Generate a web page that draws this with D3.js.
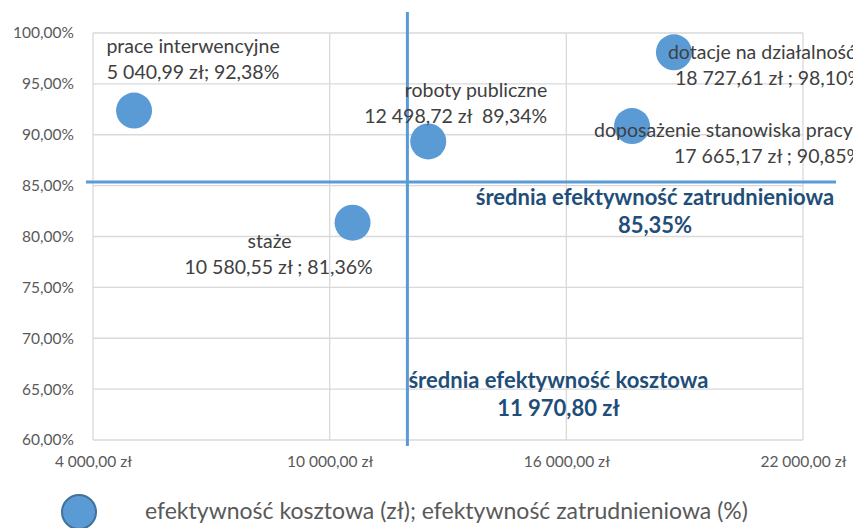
<!DOCTYPE html>
<html><head><meta charset="utf-8">
<script src="https://cdn.jsdelivr.net/npm/d3@7"></script>
<style>
body{margin:0;background:#fff;}
svg{display:block;font-family:Lato,"Open Sans",sans-serif;}
</style></head>
<body><svg id="c" width="853" height="528"></svg>
<script>
const names = ["prace interwencyjne","staże","roboty publiczne","doposażenie stanowiska pracy","dotacje na działalność"];
const costs = [5040.99, 10580.55, 12498.72, 17665.17, 18727.61];
const rates = [92.38, 81.36, 89.34, 90.85, 98.10];
const valueLabels = ["5 040,99 zł; 92,38%","10 580,55 zł ; 81,36%","12 498,72 zł\u00a0 89,34%","17 665,17 zł ; 90,85%","18 727,61 zł ; 98,10%"];
const xTicks = [4000, 10000, 16000, 22000];
const xTickLabels = ["4 000,00 zł","10 000,00 zł","16 000,00 zł","22 000,00 zł"];
const yTicks = [60,65,70,75,80,85,90,95,100];
const yTickLabels = ["60,00%","65,00%","70,00%","75,00%","80,00%","85,00%","90,00%","95,00%","100,00%"];
const meanCost = 11970.80, meanRate = 85.35;
const meanCostLabel = ["średnia efektywność kosztowa","11 970,80 zł"];
const meanRateLabel = ["średnia efektywność zatrudnieniowa","85,35%"];
const legendLabel = "efektywność kosztowa (zł); efektywność zatrudnieniowa (%)";

const svg = d3.select("#c");
const L=93, R=803, T=33, B=440;
const x = d3.scaleLinear().domain([4000,22000]).range([L,R]);
const y = d3.scaleLinear().domain([60,100]).range([B,T]);

// gridlines
svg.append("g").selectAll("line").data(xTicks).join("line")
  .attr("x1",d=>x(d)).attr("x2",d=>x(d)).attr("y1",T).attr("y2",B)
  .attr("stroke","#d9d9d9").attr("stroke-width",1.3);
svg.append("g").selectAll("line").data(yTicks).join("line")
  .attr("x1",L).attr("x2",R).attr("y1",d=>y(d)).attr("y2",d=>y(d))
  .attr("stroke","#d9d9d9").attr("stroke-width",1.3);

// axis labels
const xa = svg.append("g").attr("transform",`translate(0,${B})`)
  .call(d3.axisBottom(x).tickValues(xTicks).tickSize(0).tickPadding(16).tickFormat((d,i)=>xTickLabels[i]));
xa.select(".domain").remove();
xa.selectAll("text").attr("font-size",15.5).attr("fill","#595959").attr("font-family","Lato,sans-serif");
const ya = svg.append("g").attr("transform",`translate(${L},0)`)
  .call(d3.axisLeft(y).tickValues(yTicks).tickSize(0).tickPadding(19).tickFormat((d,i)=>yTickLabels[i]));
ya.select(".domain").remove();
ya.selectAll("text").attr("font-size",15.5).attr("fill","#595959").attr("font-family","Lato,sans-serif");

// mean lines
svg.append("line").attr("x1",x(meanCost)).attr("x2",x(meanCost)).attr("y1",T-21).attr("y2",B+6)
  .attr("stroke","#5B9BD5").attr("stroke-width",3);
svg.append("line").attr("x1",L-7).attr("x2",R+33).attr("y1",y(meanRate)).attr("y2",y(meanRate))
  .attr("stroke","#5B9BD5").attr("stroke-width",3);

// bubbles
const idx = d3.range(names.length);
svg.append("g").selectAll("circle").data(idx).join("circle")
  .attr("cx",i=>x(costs[i])).attr("cy",i=>y(rates[i])).attr("r",18)
  .attr("fill","#5B9BD5");

// data labels offsets relative to the bubble
const off = [
  {dx:59, dx2:59, dy:-58, a:"middle"},
  {dx:-83, dx2:-74, dy:25, a:"middle"},
  {dx:119, dx2:119, dy:-44, a:"end"},
  {dx:-38, dx2:42, dy:11, a:"start"},
  {dx:-6, dx2:1, dy:7, a:"start"}
];
const lab = svg.append("g").attr("font-size",19.5).attr("fill","#404040");
idx.forEach(i=>{
  const cx=x(costs[i]), cy=y(rates[i]), o=off[i];
  lab.append("text").attr("x",cx+o.dx).attr("y",cy+o.dy).attr("text-anchor",o.a).text(names[i]);
  lab.append("text").attr("x",cx+o.dx2).attr("y",cy+o.dy+26).attr("text-anchor",o.a).text(valueLabels[i]);
});

// mean labels
const ml = svg.append("g").attr("font-size",22).attr("font-weight","bold").attr("fill","#1F4E79").attr("text-anchor","middle");
ml.append("text").attr("x",x(meanCost)+151).attr("y",y(65)-1).text(meanCostLabel[0]);
ml.append("text").attr("x",x(meanCost)+151).attr("y",y(65)+27).text(meanCostLabel[1]);
ml.append("text").attr("x",655).attr("y",y(meanRate)+23).text(meanRateLabel[0]);
ml.append("text").attr("x",655).attr("y",y(meanRate)+51).text(meanRateLabel[1]);

// legend
svg.append("circle").attr("cx",79).attr("cy",512).attr("r",17).attr("fill","#5B9BD5").attr("stroke","#41719C").attr("stroke-width",2);
svg.append("text").attr("x",145).attr("y",519).attr("font-size",23).attr("fill","#595959").text(legendLabel);
</script></body></html>
